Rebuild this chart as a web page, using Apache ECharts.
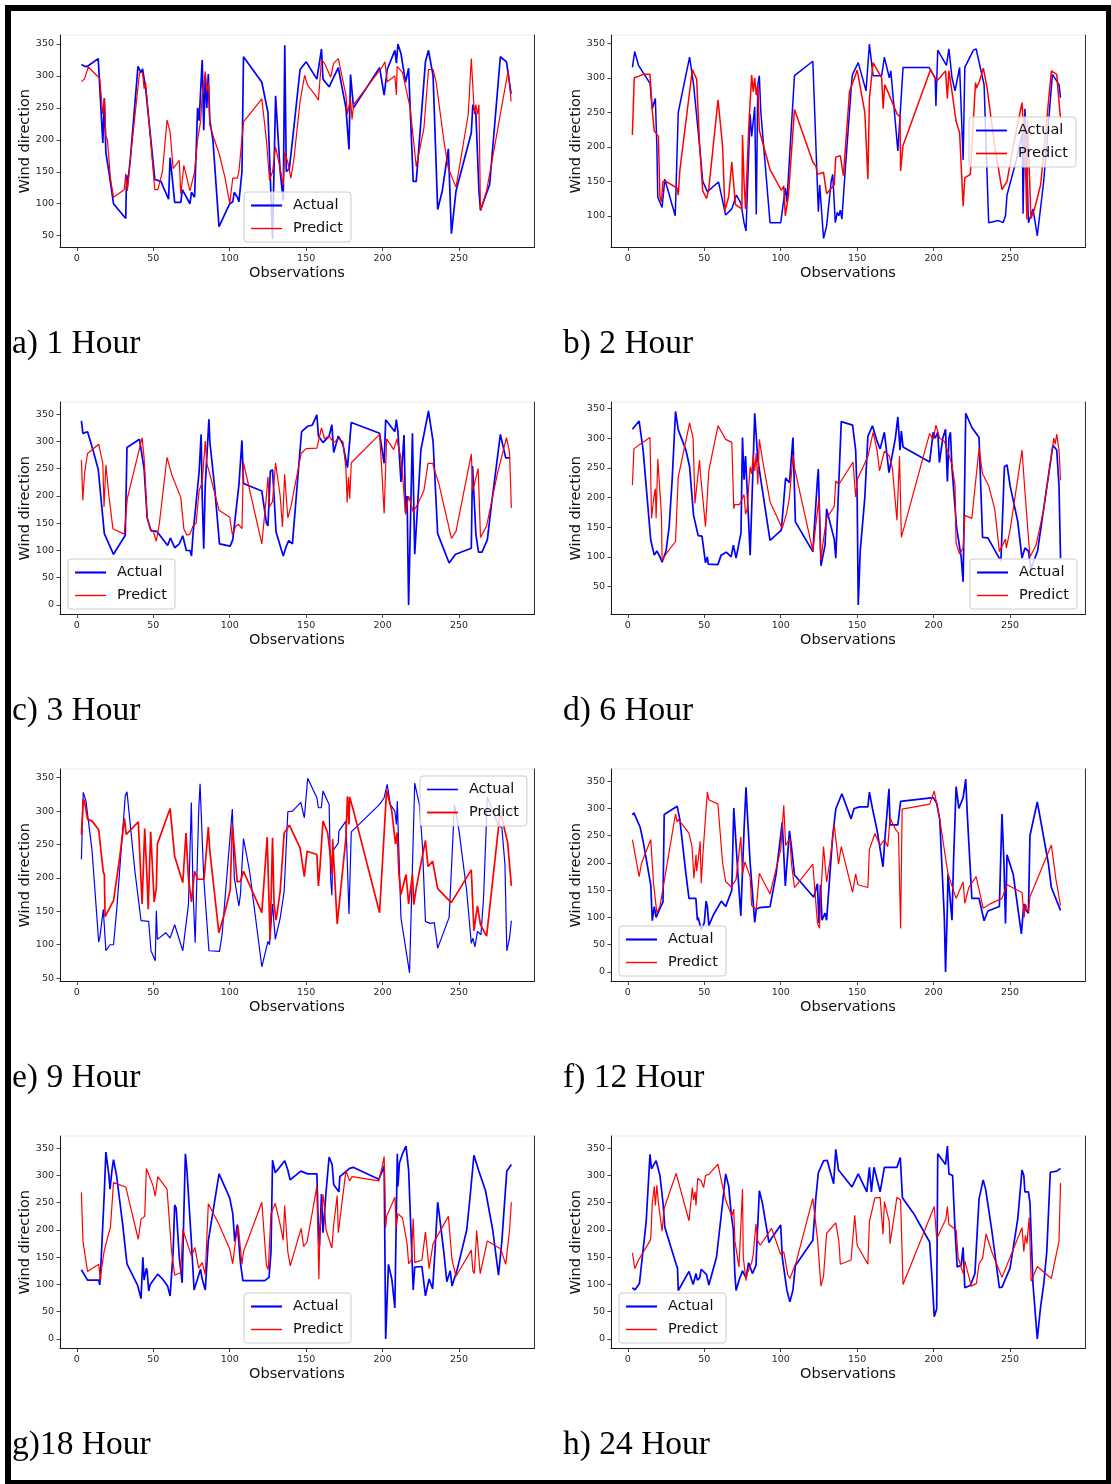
<!DOCTYPE html>
<html>
<head>
<meta charset="utf-8">
<title>Wind direction forecasts</title>
<script src="https://cdn.jsdelivr.net/npm/echarts@6/dist/echarts.min.js"></script>
<style>
  html, body { margin: 0; padding: 0; background: #ffffff; }
  #chart { width: 1111px; height: 1484px; }
</style>
</head>
<body>
<div id="chart"></div>
<script>
// ---- Tick labels ----
const X_TICKS = [0, 50, 100, 150, 200, 250];
const Y_TICKS_FROM_50 = [50, 100, 150, 200, 250, 300, 350];
const Y_TICKS_FROM_100 = [100, 150, 200, 250, 300, 350];
const Y_TICKS_FROM_0 = [0, 50, 100, 150, 200, 250, 300, 350];

// ---- Captions ----
const CAPTIONS = ['a) 1 Hour', 'b) 2 Hour', 'c) 3 Hour', 'd) 6 Hour', 'e) 9 Hour', 'f) 12 Hour', 'g)18 Hour', 'h) 24 Hour'];
const SERIES_NAMES = ['Actual', 'Predict'];

// ---- Observations: [observation index, wind direction in degrees] ----
const H1_ACTUAL = [[3,318],[5,315],[7,315],[14,327],[17,195],[18,265],[19,180],[21,150],[24,100],[32,77],[32.5,145],[33,125],[35,170],[40,315],[42,305],[43,311],[45,280],[48,210],[51,138],[55,135],[60,107],[61,172],[62,150],[64,102],[68,102],[69,122],[74,100],[75,118],[77,110],[79,250],[80,230],[82,325],[83,215],[84,300],[85,250],[86,303],[87,230],[89,200],[93,64],[100,100],[102,103],[103,118],[105,110],[106,103],[108,150],[109,330],[121,290],[125,243],[128,45],[130,269],[133,150],[135,105],[136,348],[137,150],[139,155],[142,220],[146,310],[150,322],[157,295],[160,342],[161,295],[165,283],[171,313],[176,250],[178,185],[179,302],[181,250],[198,313],[201,270],[203,310],[208,340],[209,320],[210,350],[212,335],[215,290],[217,312],[218,250],[220,135],[222,135],[228,322],[230,340],[233,300],[236,91],[239,120],[243,186],[245,53],[248,120],[258,211],[259,255],[261,240],[263,120],[264,90],[270,130],[277,330],[281,322],[284,272]];
const H1_PREDICT = [[3,291],[5,295],[7.5,314],[15,296],[17,240],[18,265],[19,205],[20,200],[22,140],[24,110],[31,122],[32,147],[33,120],[35,170],[41,305],[43,305],[44,280],[45,290],[51,122],[53,122],[56,150],[59,231],[61,212],[63,155],[67,168],[68,115],[70,160],[74,120],[77,150],[79,200],[81,230],[82,270],[84,307],[85,275],[86,290],[87,223],[90,200],[93,179],[97,140],[100,100],[102,140],[105,140],[106,150],[109,228],[121,264],[124,200],[126,137],[128,150],[130,189],[133,155],[135,130],[136,180],[138,165],[140,140],[142,170],[146,260],[149,301],[151,285],[156,270],[158,262],[160,325],[162,320],[166,298],[168,320],[171,327],[176,270],[177,240],[179,265],[180,232],[181,255],[200,315],[201.5,322],[203,291],[208,300],[209,270],[209.5,315],[213,305],[218,250],[222,158],[227,218],[230,310],[233,310],[235,290],[240,200],[243,155],[248,126],[256,240],[258,327],[260,240],[261,255],[262,240],[263,255],[264,89],[268,120],[274,200],[282,307],[283,290],[284,260]];

const H2_ACTUAL = [[3,315],[4.5,338],[7,318],[14.5,292],[16,255],[18,270],[19,200],[19.6,127],[22.4,112],[24.2,153],[31,100],[33,250],[40.4,330],[43,290],[47,200],[49,150],[52,135],[59.3,149],[64,101],[68,110],[71,130],[74,118],[76,90],[77.3,78],[80,247],[81,215],[83,258],[84,102],[85,290],[86,303],[87,250],[93,90],[100,90],[103,140],[104,120],[109,303],[121,324],[124.6,106],[125.5,145],[128,67],[130,85],[133,150],[134,160],[135.7,90],[137,105],[138,100],[139,108],[140,95],[142,160],[146.6,300],[147,305],[150.7,322],[155.8,281],[158,349],[160.4,303],[166,303],[167.8,330],[171,300],[172,310],[176.6,194],[180,315],[197,315],[201,300],[201.5,259],[202.7,340],[208.4,318],[210,342],[212,300],[214,281],[217,315],[219.3,181],[220.4,315],[226,340],[227.8,342],[230,320],[233,290],[236,90],[242.4,93],[245.4,90],[247,100],[248,130],[254,180],[258,220],[258.5,103],[259.7,255],[261,175],[262,90],[265,110],[267.8,71],[272,150],[277.7,305],[282,290],[283,271]];
const H2_PREDICT = [[3,217],[4.2,300],[7,302],[10,305],[14.5,305],[16,252],[17.3,223],[18,225],[20,215],[21,128],[22,120],[23,150],[24.7,150],[32.3,140],[33,130],[34,165],[42.2,312],[45,298],[47,200],[49,136],[51.5,125],[53,140],[59,268],[62,200],[63.5,108],[66,128],[68,178],[70.4,116],[74.6,110],[75,217],[76,150],[77,110],[79,225],[81,304],[82,280],[83,300],[84,275],[85,290],[86,224],[93,167],[100.4,137],[102,143],[103,100],[105,128],[109,254],[121,178],[123,172],[124,160],[128,163],[130,132],[135,145],[136,185],[139,187],[141,158],[145,280],[150,311],[155,250],[157,153],[158,270],[160.4,322],[166,300],[167,255],[168,290],[170,280],[176,248],[178,243],[178.4,165],[180,202],[198,312],[202,295],[207.8,310],[209,270],[210,310],[212,280],[214.7,237],[217,220],[219.3,114],[220.4,155],[224,160],[227.4,293],[228,285],[230,295],[232.5,314],[235,285],[240,200],[244.7,138],[248,150],[252,200],[257.8,264],[260,180],[261,95],[261.5,239],[263.6,96],[266,110],[270,145],[277,310],[280.5,305],[283,240]];

const H3_ACTUAL = [[3,338],[4,315],[7,318],[10,290],[14,249],[18,131],[24,93],[31.7,128],[32.8,289],[41,304],[44,250],[46,160],[48.5,136],[52.4,135],[59.4,109],[61.2,123],[64,105],[67,112],[69.3,127],[71.6,100],[74,100],[75,90],[76,130],[80,245],[81.3,313],[82,200],[83,103],[84,220],[86.4,341],[87,300],[90,220],[93.3,112],[100.3,108],[102,120],[106,220],[108,302],[109,223],[121,209],[124,150],[125,145],[126.6,246],[128,248],[129,200],[130.3,134],[135,90],[137,108],[138.6,118],[141,112],[145,250],[147,318],[151,328],[154,330],[157,349],[158,310],[161,298],[165,310],[166.8,331],[168,280],[169,290],[171,310],[174,295],[177,252],[179.5,335],[198,315],[201,260],[202,340],[208,318],[209,340],[210,318],[212,226],[214,312],[215,170],[216,200],[217,0],[219.5,315],[221,93],[225,284],[230,356],[233,300],[236,131],[243.5,77],[247.7,93],[258,104],[258.8,255],[261,130],[262.7,97],[265,97],[268.5,120],[271,180],[277,313],[280.5,270],[283.5,270]];
const H3_PREDICT = [[3,266],[3.9,192],[5,240],[7,278],[14.3,295],[17,260],[17.8,180],[19,257],[21,200],[23.6,140],[31,130],[32,128],[33,195],[42.7,307],[44,270],[46,160],[48,140],[50,135],[52,117],[54,150],[59,271],[62,240],[68,197],[70,140],[72,128],[74,130],[76,145],[78,150],[80,210],[82,225],[84,301],[85,260],[87,240],[93,174],[100,161],[101.7,129],[104,145],[105.8,148],[108,140],[109,261],[121,112],[124,200],[125,235],[126,180],[128,190],[130,261],[133,200],[134.5,143],[135.9,240],[138,160],[140,180],[146.7,278],[150,287],[157,288],[158,300],[160,325],[162,305],[165,310],[168,298],[171,305],[174,300],[176,250],[176.8,188],[177.7,235],[178.5,195],[179.5,261],[198,313],[199,270],[201,168],[202.6,305],[207.2,285],[209.5,305],[210,295],[212,270],[213,240],[215,166],[217,200],[220,171],[223,185],[227,210],[229.7,260],[232.7,260],[237,220],[245,122],[248,135],[258,277],[259,210],[262,245],[262.5,250],[264,124],[268,145],[275,240],[281,307],[283,280],[284.2,178]];

const H6_ACTUAL = [[3,315],[7.4,329],[10,280],[15,128],[17.3,103],[19,110],[21,100],[22.4,91],[25,110],[27,150],[29,230],[31.2,345],[33,314],[38,280],[40.4,252],[43,170],[46,136],[48.5,135],[50.8,90],[52,100],[52.6,88],[58.9,87],[61,103],[64.4,108],[67.6,100],[69,120],[70.8,98],[74,140],[75,301],[76,230],[77,270],[79,160],[80,103],[82,260],[83,342],[85,265],[87,230],[93,128],[100.4,145],[103.2,233],[105.7,225],[108,301],[109.6,159],[121,109],[124,230],[124.6,248],[126.3,85],[129,120],[130,181],[133,150],[135,130],[136,98],[139.6,328],[147,322],[149,280],[150,200],[150.7,19],[152,110],[155,200],[157,303],[160,321],[163,295],[165,282],[167.8,310],[170.8,242],[175,300],[176.6,336],[178,280],[178.9,312],[180,285],[197.4,260],[199.7,310],[201,300],[202.7,310],[203.8,259],[206,300],[207.8,315],[209,227],[210,300],[211,310],[212,250],[215,150],[218,100],[219.3,58],[221,342],[225,318],[229.7,301],[232,133],[235.5,132],[244,93],[244.7,90],[246.3,252],[248,255],[250,220],[255,160],[257.8,98],[259.7,115],[262,110],[263.6,80],[268,110],[273,200],[278,288],[280.5,280],[282,220],[283,98]];
const H6_PREDICT = [[3,221],[4,282],[5,285],[8,290],[14.5,301],[15.5,165],[17,200],[18,215],[18.5,165],[19.6,265],[21,210],[22,170],[22.4,94],[25,105],[31.2,126],[33,235],[40.4,326],[42.7,300],[43.9,190],[46.9,263],[47.5,240],[50.8,151],[53,246],[59,321],[64,298],[68,293],[69.3,181],[70,188],[73,188],[74,190],[76,205],[77,172],[78,180],[80,252],[81,240],[82,272],[83,245],[84,275],[85,222],[86,298],[88,265],[93,193],[101,148],[104,175],[105.7,200],[108,271],[109,250],[121,110],[125,200],[126.3,95],[128,130],[130,165],[135,185],[136,228],[138,222],[147.3,260],[149,201],[150,230],[157,269],[160.4,310],[163,280],[164.6,245],[167.8,278],[171,270],[173,250],[176,162],[177.7,270],[178.9,133],[197.4,308],[199.7,298],[201.5,322],[204,300],[207,295],[209,280],[212,255],[214,220],[214.7,123],[217,105],[219.3,115],[220.4,170],[225,165],[229.7,283],[232,240],[236,220],[240,180],[243,109],[247,130],[247.5,115],[250,145],[257.8,280],[260,200],[263,100],[267,120],[272,180],[278.6,300],[279.5,290],[280.5,307],[282,280],[283,229]];

const H9_ACTUAL = [[3,228],[4.2,328],[6,315],[10,240],[14.3,104],[15,110],[17.3,153],[19,91],[21.7,100],[23,102],[24,100],[26,150],[31.7,323],[32.8,329],[38,210],[42,136],[47,135],[48.5,91],[51.3,76],[52,151],[52.7,108],[58.2,118],[61,110],[64,130],[69.3,91],[73,160],[74.9,313],[76,180],[77.4,103],[79.7,300],[80.6,341],[83,200],[86.4,91],[93.3,90],[95,115],[101.7,303],[103,200],[106,158],[107,175],[109,259],[113,210],[121,67],[125,105],[126,100],[128,161],[129.8,108],[133,140],[135.6,180],[138,299],[141,300],[146.5,313],[148.8,290],[151,349],[157,320],[158,305],[159.9,305],[161,330],[165,310],[166,200],[166.8,174],[167.5,241],[171,252],[171.4,270],[176,285],[178,146],[179.5,269],[198,310],[201,320],[203,340],[205,310],[208,300],[209,280],[209.6,315],[212,140],[217.6,58],[221,342],[224,310],[226,250],[228,135],[231,132],[233.8,133],[236,95],[243.5,141],[247,310],[250,270],[255,180],[258,102],[259,110],[260.4,97],[262,120],[264.3,115],[266,170],[268.5,321],[272,300],[275.4,280],[278,275],[280,220],[281.2,91],[283,110],[284.2,136]];
const H9_PREDICT = [[3,265],[4.2,318],[5,315],[7,288],[10,285],[14.3,272],[17.3,209],[18,205],[18.5,142],[24,166],[28,230],[31.2,289],[32.3,265],[40.2,284],[42.7,161],[44.4,274],[46,195],[46.7,153],[48.3,269],[50.6,164],[52,185],[52.7,251],[61,304],[64,232],[69.3,193],[71.4,267],[73,200],[75,164],[77,210],[79,198],[83.2,198],[86,276],[87,240],[92.9,118],[97,150],[100.3,182],[101.7,280],[104.9,194],[107,195],[109,210],[121,148],[124.5,261],[126.4,107],[128,260],[129,160],[130.3,137],[133,180],[135.6,267],[139,279],[146,245],[148.8,202],[150.6,240],[157,235],[158,188],[159,215],[161,285],[164,268],[166,230],[167,205],[167.3,258],[170.3,131],[176,260],[177,322],[178,280],[178.4,321],[181,300],[198,148],[202.6,331],[206,300],[208.4,251],[209.5,268],[210.7,204],[212,175],[215.3,205],[217,161],[219.5,205],[220.4,160],[222,185],[228,256],[229.7,217],[232.7,225],[236,184],[244.9,163],[258,212],[259.7,121],[262,158],[264,130],[268,113],[276,280],[277,300],[280,270],[281.7,254],[284.2,188]];

const H12_ACTUAL = [[3,288],[4,292],[8,266],[10,240],[15,160],[16,94],[17.3,120],[18.5,100],[21.5,120],[23,128],[23.8,289],[32.3,304],[34,280],[38,180],[40,135],[44.5,135],[45.5,95],[46,100],[48,77],[50,90],[51.2,130],[52,120],[53,85],[56,105],[61.2,130],[64,120],[66,135],[68,150],[69.3,301],[72,180],[73.9,103],[76,260],[77.3,339],[78,300],[80,200],[83,91],[84,115],[86,118],[93,120],[97,180],[101,275],[103,158],[105.7,259],[107,230],[109,178],[121.6,137],[124,162],[125,90],[126,160],[127,95],[129,108],[130,95],[134,250],[136,299],[140,327],[146,281],[148,300],[151.6,303],[157,303],[158,330],[160,300],[163,260],[166.9,193],[168,240],[170.8,336],[171.5,270],[176.6,270],[178.4,313],[199.7,320],[202,310],[204,280],[207,100],[207.8,0],[209,120],[209.4,180],[212,95],[213,200],[214.7,340],[216.5,300],[219.3,320],[221,354],[222,290],[225,135],[229.7,135],[233,94],[235.5,112],[243,120],[244.7,290],[246,200],[247,89],[248,215],[252,180],[257.4,70],[259,125],[260,115],[262,108],[263,250],[267.8,312],[275,200],[277,155],[283,113]];
const H12_PREDICT = [[3,243],[7.4,175],[9,200],[15,243],[16.8,163],[17,160],[19,108],[21,120],[24,170],[31.2,290],[32.3,275],[33,280],[40,255],[42,230],[43.2,172],[44.6,215],[45,185],[46,205],[47.3,240],[48,163],[49.2,220],[52,330],[53,316],[58.9,308],[62,200],[64,166],[67.6,156],[70.8,170],[73.9,248],[75,180],[76.6,202],[80,175],[81,122],[82,120],[84,115],[86,181],[93,143],[100,225],[102,306],[103.2,232],[106,245],[107,200],[109,155],[121,198],[124,90],[125.4,80],[126,130],[128,230],[130,165],[132,200],[135,270],[137.8,198],[139.6,230],[147,146],[149,180],[150.5,160],[157,155],[158,225],[161.6,254],[165,232],[167.8,243],[170,230],[171.5,283],[175,262],[177,255],[178.4,80],[179.4,299],[197.4,308],[200.4,332],[204,280],[209.4,180],[214.7,135],[219.3,165],[220.4,126],[223,155],[227.8,175],[232.4,117],[237,125],[244.7,135],[248,160],[257.8,146],[259.2,100],[260,125],[262,110],[263,138],[277,233],[280,170],[283,122]];

const H18_ACTUAL = [[3,127],[4,126],[7,108],[14.3,108],[15,99],[16,150],[18,270],[19,343],[21,300],[21.7,275],[23,310],[24,329],[26,300],[30,210],[32.8,138],[39.7,99],[42,74],[43.2,150],[44,108],[45.5,130],[46,125],[47,88],[48,100],[52.9,119],[56,110],[59.4,97],[61,79],[63,160],[64,246],[65,240],[67,150],[68.9,103],[70,230],[71,340],[72,310],[75,175],[76.7,90],[80.9,128],[82,110],[84,90],[86,180],[93,303],[100,259],[102,230],[103.3,179],[105,210],[107,140],[108.6,107],[122.9,107],[124,110],[125.7,113],[127,160],[128,328],[129.8,305],[136,327],[138,310],[139.5,292],[146.5,308],[151,303],[157,303],[158,200],[158.7,170],[160,266],[161,195],[163,270],[165,334],[167,320],[168,283],[171.4,270],[172,298],[178.4,313],[180.7,315],[197.5,293],[200,310],[201,318],[202,0],[203.8,137],[206,110],[208,57],[209.6,340],[210,280],[211,323],[213,340],[215.3,354],[217,310],[220,90],[221,132],[225.7,133],[228,79],[230.4,110],[232.7,92],[234,150],[236,251],[237,230],[240,160],[242,105],[244.2,125],[245.4,97],[249,130],[255,200],[257,255],[259.7,337],[262.7,310],[264,308],[267.3,272],[272,200],[275.8,117],[278,180],[281.2,308],[284.2,320]];
const H18_PREDICT = [[3,269],[4,180],[7,124],[14.3,137],[15.5,108],[16,125],[17.8,160],[20,185],[22,205],[24,287],[32,279],[40.2,183],[42,220],[44.4,225],[45.5,313],[46.7,315],[50,280],[51.3,262],[52.9,298],[59,275],[62,160],[64,117],[68,122],[69.3,201],[70.2,200],[75,152],[77.2,168],[79.7,130],[82,140],[84,118],[86,248],[93,210],[100,165],[102,138],[104,185],[105.6,207],[108,137],[109,160],[121,251],[124,135],[125.2,127],[127,230],[129.8,249],[133,210],[135,181],[135.9,245],[138,160],[139.6,134],[146.7,203],[148.3,170],[150.6,178],[157,280],[158.3,110],[159,200],[161,265],[162,240],[163,200],[166.8,167],[168,210],[170.3,263],[171,195],[173,240],[176,309],[178.4,290],[180,298],[197.5,290],[200,320],[201,335],[202,204],[202.6,225],[208,260],[209,205],[210,230],[213,222],[216,175],[217,138],[218.8,145],[220,221],[221,140],[225.7,145],[228,196],[230.4,129],[233,175],[235,185],[243,225],[245.4,145],[248,115],[258,163],[259,125],[260,120],[261.5,199],[263.8,120],[268.5,180],[277.3,165],[280.5,137],[283,200],[284.2,251]];

const H24_ACTUAL = [[3,94],[4.6,90],[7.6,102],[12,215],[14.5,339],[15.5,312],[17,320],[18.5,327],[21,300],[23,250],[24.2,205],[28,170],[31.6,137],[32.5,130],[33,89],[40,124],[42.7,100],[44.6,120],[45.5,108],[47,112],[48,128],[51.5,118],[53,99],[58,150],[62,250],[64,303],[66,280],[67.6,230],[69,200],[70,120],[70.8,89],[73,110],[75,125],[77.3,112],[79,140],[81.5,120],[83.8,135],[86,272],[88,250],[92.3,177],[94,185],[100,209],[101,150],[104,90],[106,68],[108,90],[109.6,135],[121,181],[123,260],[124.6,305],[128,327],[130.4,328],[134.6,285],[136,348],[137.8,310],[146.6,279],[150.7,303],[156.3,270],[158,315],[159.3,270],[161,315],[165,270],[167.8,315],[176,315],[178.2,333],[179.6,259],[187,230],[197.4,178],[199,110],[200.4,41],[202,55],[202.7,340],[207.8,320],[209,354],[210,303],[212.4,300],[214,200],[215.4,132],[218,135],[219.3,168],[220.4,94],[224,98],[227,120],[229.7,257],[232.4,292],[234,275],[238,200],[243,94],[244.7,95],[250,130],[255,220],[257.8,310],[259,300],[259.7,270],[262,270],[263,250],[265,100],[267.8,0],[270,60],[272,100],[274,160],[276.3,306],[280.5,308],[283,313]];
const H24_PREDICT = [[3,158],[4.6,129],[7,145],[14.5,180],[15,185],[16,249],[17.3,280],[18,245],[19,282],[20,250],[22.4,198],[23.8,240],[31.6,304],[40,217],[42.2,278],[43,255],[44,270],[44.6,245],[45.7,295],[48,290],[49.6,278],[50.8,300],[53,302],[58.9,321],[62,280],[64,255],[68,225],[69.3,238],[70,180],[72.7,132],[75,275],[75.5,150],[77.3,107],[78,120],[81,140],[82,155],[83.8,211],[85,180],[86.6,172],[94,203],[100,155],[102,160],[104.6,118],[106,111],[110,140],[121,258],[124,185],[126.3,97],[128,115],[130,194],[136,213],[138,180],[139,137],[146,145],[148.4,227],[150,172],[157,137],[158,215],[161.6,259],[165,260],[166.9,192],[167.8,252],[171,215],[171.5,175],[176,260],[178.4,255],[180,100],[200.4,243],[202,184],[208,220],[209,243],[210,210],[214.7,200],[216,150],[219.3,120],[220.4,143],[223,115],[224.6,97],[228,102],[229.7,138],[232,148],[234.3,193],[238,160],[244.7,113],[246,115],[257.8,204],[259,160],[260,190],[261,175],[262.5,223],[263.8,106],[267.8,133],[277,111],[282,180],[283,286]];

// ---- Panel setup (data + axis extents; layout lives below) ----
const PANELS = [
  { actual: H1_ACTUAL,  predict: H1_PREDICT,  yMin: 31.5,  yMax: 364,   yTicks: Y_TICKS_FROM_50,  widths: [1.7, 1.2], legendAt: [244, 192] },
  { actual: H2_ACTUAL,  predict: H2_PREDICT,  yMin: 54,    yMax: 362,   yTicks: Y_TICKS_FROM_100, widths: [1.5, 1.5], legendAt: [969, 117] },
  { actual: H3_ACTUAL,  predict: H3_PREDICT,  yMin: -17.5, yMax: 372.5, yTicks: Y_TICKS_FROM_0,   widths: [1.7, 1.2], legendAt: [68, 559] },
  { actual: H6_ACTUAL,  predict: H6_PREDICT,  yMin: 3,     yMax: 361,   yTicks: Y_TICKS_FROM_50,  widths: [1.7, 1.2], legendAt: [970, 559] },
  { actual: H9_ACTUAL,  predict: H9_PREDICT,  yMin: 45,    yMax: 363,   yTicks: Y_TICKS_FROM_50,  widths: [1.2, 1.7], legendAt: [420, 776] },
  { actual: H12_ACTUAL, predict: H12_PREDICT, yMin: -17.5, yMax: 372.5, yTicks: Y_TICKS_FROM_0,   widths: [1.7, 1.2], legendAt: [619, 926] },
  { actual: H18_ACTUAL, predict: H18_PREDICT, yMin: -17.5, yMax: 372.5, yTicks: Y_TICKS_FROM_0,   widths: [1.7, 1.2], legendAt: [244, 1293] },
  { actual: H24_ACTUAL, predict: H24_PREDICT, yMin: -17.5, yMax: 372.5, yTicks: Y_TICKS_FROM_0,   widths: [1.7, 1.2], legendAt: [619, 1293] }
];

// ---- Layout ----
const COL_LEFT = [60, 611];
const ROW_TOP = [35, 402, 769, 1136];
const PLOT_W = 474;
const PLOT_H = 212.5;
const X_MIN = -11, X_MAX = 299;
const CAPTION_X = [12, 563];
const CAPTION_DY = 309;     // caption centre below the plot top
const SANS = 'DejaVu Sans';
const TICK_COLOR = '#1a1a1a';

const grids = [], xAxes = [], yAxes = [], series = [], legends = [], graphics = [];

PANELS.forEach((p, i) => {
  const col = i % 2, row = Math.floor(i / 2);
  const left = COL_LEFT[col], top = ROW_TOP[row];

  grids.push({ left: left, top: top, width: PLOT_W, height: PLOT_H, show: true,
               borderColor: '#ececec', borderWidth: 1, backgroundColor: '#ffffff' });

  xAxes.push({
    gridIndex: i, type: 'value', min: X_MIN, max: X_MAX,
    axisLine: { show: true, onZero: false, lineStyle: { color: TICK_COLOR, width: 1 } },
    axisTick: { show: true, length: 3.5, customValues: X_TICKS, lineStyle: { color: TICK_COLOR, width: 0.8 } },
    axisLabel: { customValues: X_TICKS, fontFamily: SANS, fontSize: 9.5, color: '#262626', margin: 6 },
    splitLine: { show: false }
  });

  yAxes.push({
    gridIndex: i, type: 'value', position: 'left', min: p.yMin, max: p.yMax,
    axisLine: { show: true, onZero: false, lineStyle: { color: TICK_COLOR, width: 1 } },
    axisTick: { show: true, length: 3.5, customValues: p.yTicks, lineStyle: { color: TICK_COLOR, width: 0.8 } },
    axisLabel: { customValues: p.yTicks, fontFamily: SANS, fontSize: 9.5, color: '#262626', margin: 6 },
    splitLine: { show: false }
  });
  // right-hand frame edge
  yAxes.push({
    gridIndex: i, type: 'value', position: 'right', min: 0, max: 1,
    axisLine: { show: true, onZero: false, lineStyle: { color: '#333333', width: 1 } },
    axisTick: { show: false }, axisLabel: { show: false }, splitLine: { show: false }
  });

  const colors = ['#0000ff', '#ff0000'];
  [p.actual, p.predict].forEach((data, k) => {
    series.push({
      type: 'line', name: SERIES_NAMES[k], data: data,
      xAxisIndex: i, yAxisIndex: 2 * i,
      symbol: 'none', showSymbol: false, silent: true, animation: false,
      lineStyle: { color: colors[k], width: p.widths[k] },
      itemStyle: { color: colors[k] }
    });
  });

  legends.push({
    left: p.legendAt[0], top: p.legendAt[1], orient: 'vertical',
    itemWidth: 31, itemHeight: 14, itemGap: 8,
    padding: [6, 8, 6, 6],
    borderColor: '#cccccc', borderWidth: 1, borderRadius: 3,
    backgroundColor: 'rgba(255,255,255,0.8)',
    selectedMode: false,
    itemStyle: { opacity: 0 },
    textStyle: { fontFamily: SANS, fontSize: 14.5, color: '#111111', padding: [0, 0, 0, 6] },
    data: [
      { name: SERIES_NAMES[0], lineStyle: { width: p.widths[0] + 0.4 } },
      { name: SERIES_NAMES[1], lineStyle: { width: p.widths[1] + 0.2 } }
    ]
  });

  // axis titles
  graphics.push({
    type: 'text', x: left - 35, y: top + PLOT_H / 2, rotation: Math.PI / 2,
    style: { text: 'Wind direction', textAlign: 'center', textVerticalAlign: 'middle',
             font: '14.5px "DejaVu Sans"', fill: '#111111' }
  });
  graphics.push({
    type: 'text', x: left + PLOT_W / 2, y: top + PLOT_H + 25.5,
    style: { text: 'Observations', textAlign: 'center', textVerticalAlign: 'middle',
             font: '14.5px "DejaVu Sans"', fill: '#111111' }
  });
  // panel caption
  graphics.push({
    type: 'text', x: CAPTION_X[col], y: top + CAPTION_DY,
    style: { text: CAPTIONS[i], textAlign: 'left', textVerticalAlign: 'middle',
             font: '33.5px "Liberation Serif"', fill: '#000000' }
  });
});

// outer frame
[[5, 5, 6, 1479], [5, 5, 1106, 6], [1106, 5, 5, 1479], [5, 1480, 1106, 4]].forEach(r => {
  graphics.push({ type: 'rect', shape: { x: r[0], y: r[1], width: r[2], height: r[3] },
                  style: { fill: '#000000' }, z: 100 });
});

const chart = echarts.init(document.getElementById('chart'), null, { renderer: 'canvas' });
chart.setOption({
  animation: false,
  backgroundColor: '#ffffff',
  grid: grids, xAxis: xAxes, yAxis: yAxes, series: series, legend: legends, graphic: graphics
});
</script>
</body>
</html>
